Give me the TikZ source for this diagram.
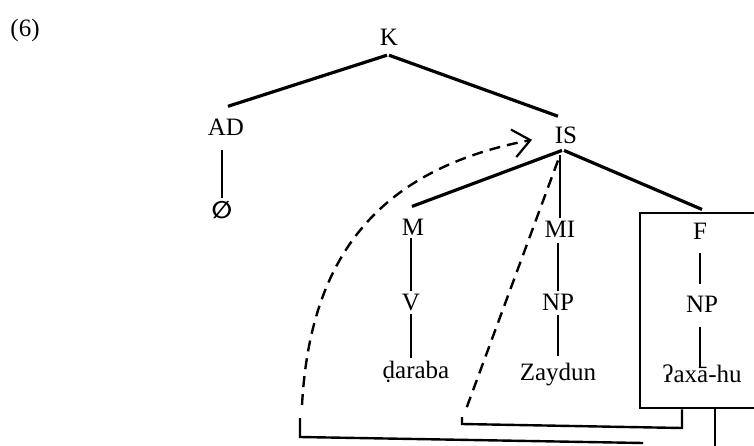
\documentclass[tikz,border=0pt]{standalone}
\usepackage{fontspec}
\setmainfont{Liberation Serif}
\newfontfamily\symfont{DejaVu Sans}
\usetikzlibrary{arrows.meta}
\begin{document}
\begin{tikzpicture}[x=1pt,y=-1pt,
  lab/.style={font=\fontsize{25}{25}\selectfont, inner sep=2pt, anchor=base},
  branch/.style={line width=3.2pt},
  stem/.style={line width=2.4pt},
  dsh/.style={line width=2.4pt, dash pattern=on 11pt off 7pt},
  frame/.style={line width=2.4pt}]
\useasboundingbox (0,0) rectangle (754,446);
\clip (0,0) rectangle (754,446);
% box round F
\node[draw, frame, anchor=north west, minimum width=125pt, minimum height=195pt, inner sep=0pt] (box) at (639,212) {};
% labels
\node[lab] (six) at (25,37) {(6)};
\node[lab] (K) at (389,46) {K};
\node[lab] (AD) at (226,136) {AD};
\node[lab] (IS) at (566,144) {IS};
\node[inner sep=1pt, font=\symfont\bfseries\fontsize{24}{24}\selectfont] (empty) at (222,210) {∅};
\node[lab] (M) at (413,236) {M};
\node[lab] (MI) at (560,237) {MI};
\node[lab] (F) at (700,240) {F};
\node[lab] (V) at (411,310) {V};
\node[lab] (NPa) at (558,310) {NP};
\node[lab] (NPb) at (702,312) {NP};
\node[lab] (daraba) at (416,378) {ḍaraba};
\node[lab] (zaydun) at (558,380) {Zaydun};
\node[lab] (axahu) at (702,382) {ʔaxā-hu};
% tree branches
\draw[branch] ([xshift=-2pt,yshift=-7pt]K.south) -- ([xshift=2pt,yshift=11pt]AD.north);
\draw[branch] ([yshift=-7pt]K.south) -- ([xshift=-8pt,yshift=9pt]IS.north);
\draw[stem, shorten <=12pt, shorten >=2pt] (AD.south -| empty.north) -- (empty.north);
\draw[branch] ([xshift=-4pt,yshift=-4pt]IS.south) -- ([xshift=-1pt,yshift=11pt]M.north);
\draw[stem, shorten <=9pt] (IS.south -| MI.north) -- (MI.north);
\draw[branch] ([xshift=-2pt,yshift=-4pt]IS.south) -- ([xshift=2pt,yshift=12pt]F.north);
\draw[stem] (M.south -| V.north) -- (V.north);
\draw[stem, shorten <=1pt] (V.south) -- (V.south |- daraba.north);
\draw[stem, shorten <=4pt] (MI.south -| NPa.north) -- (NPa.north);
\draw[stem, shorten <=3pt, shorten >=4pt] (NPa.south) -- (NPa.south |- zaydun.north);
\draw[stem, shorten <=11pt, shorten >=9pt] (F.south) -- (F.south |- NPb.north);
\draw[stem, shorten <=13pt, shorten >=-6pt] ([xshift=-2pt]NPb.south) -- ([xshift=-2pt]NPb.south |- axahu.north);
% movement paths
\coordinate (inA) at (465,412);
\coordinate (inB) at (462,417);
\coordinate (inC) at (462,424);
\coordinate (inD) at (682,428);
\coordinate (outA) at (302,405);
\coordinate (outB) at (300,418);
\coordinate (outC) at (300,437);
\coordinate (outD) at (643,443);
\coordinate (rB) at (715,450);
\draw[dsh] ([xshift=-8pt,yshift=-14pt]IS.south) -- (inA);
\draw[frame] (inB) -- (inC) -- (inD) -- (inD |- box.south);
\draw[dsh, -{Straight Barb[length=17pt,width=28pt,line width=2.2pt]}, shorten >=21pt]
  (outA) .. controls (310,260) and (375,170) .. (IS.west);
\draw[frame] (outB) -- (outC) -- (outD);
\draw[frame] (box.south -| rB) -- (rB);
\end{tikzpicture}
\end{document}
